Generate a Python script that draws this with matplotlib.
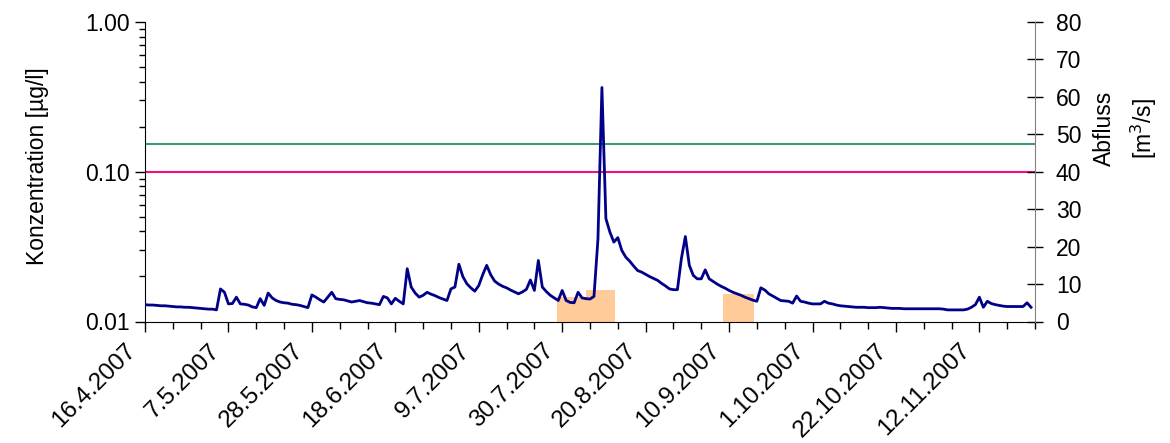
import numpy as np
import pandas as pd
import matplotlib
matplotlib.use("Agg")
import matplotlib.pyplot as plt
import matplotlib.transforms as mtransforms
from matplotlib.ticker import FixedLocator, NullFormatter

plt.rcParams['font.family'] = ['Liberation Sans', 'DejaVu Sans']

# Abfluss [m3/s], daily values from 16.4.2007
start_date = "2007-04-16"
abfluss = [
    4.5, 4.4, 4.4, 4.3, 4.2, 4.2, 4.1, 4.0, 3.9, 3.9,
    3.8, 3.8, 3.7, 3.6, 3.5, 3.4, 3.3, 3.3, 3.1, 8.7,
    7.8, 4.7, 4.8, 6.5, 4.7, 4.6, 4.4, 3.9, 3.7, 6.1,
    4.3, 7.6, 6.3, 5.6, 5.2, 5.0, 4.9, 4.6, 4.5, 4.3,
    4.0, 3.7, 7.1, 6.5, 5.8, 5.2, 6.5, 7.8, 6.1, 5.9,
    5.8, 5.5, 5.2, 5.4, 5.6, 5.3, 5.0, 4.9, 4.7, 4.5,
    6.7, 6.3, 4.7, 6.2, 5.4, 4.7, 14.1, 9.2, 7.6, 6.5,
    7.0, 7.8, 7.3, 6.9, 6.4, 6.0, 5.6, 8.7, 9.2, 15.3,
    12.0, 10.1, 9.0, 8.1, 9.6, 12.5, 15.0, 12.5, 10.8, 10.0,
    9.4, 9.0, 8.4, 7.9, 7.4, 7.9, 8.6, 11.1, 8.3, 16.3,
    9.2, 8.0, 7.0, 6.3, 5.6, 8.3, 5.6, 5.1, 5.0, 7.8,
    6.3, 6.1, 6.0, 6.7, 22.0, 62.5, 27.5, 23.9, 21.2, 22.4,
    19.0, 17.2, 16.1, 14.8, 13.6, 13.2, 12.6, 12.0, 11.5, 11.0,
    10.2, 9.5, 8.7, 8.5, 8.5, 16.8, 22.7, 15.0, 12.3, 11.4,
    11.4, 13.8, 11.4, 10.7, 10.0, 9.4, 8.9, 8.3, 7.8, 7.4,
    7.0, 6.5, 6.1, 5.7, 5.4, 9.0, 8.4, 7.4, 6.8, 6.2,
    5.6, 5.5, 5.4, 4.9, 6.8, 5.4, 5.2, 4.9, 4.7, 4.7,
    4.7, 5.4, 4.9, 4.7, 4.4, 4.2, 4.1, 4.0, 3.9, 3.8,
    3.8, 3.8, 3.7, 3.7, 3.7, 3.8, 3.7, 3.6, 3.5, 3.5,
    3.5, 3.4, 3.4, 3.4, 3.4, 3.4, 3.4, 3.4, 3.4, 3.4,
    3.4, 3.3, 3.1, 3.1, 3.1, 3.1, 3.1, 3.3, 3.8, 4.5,
    6.5, 3.8, 5.4, 4.8, 4.5, 4.3, 4.1, 4.0, 4.0, 4.0,
    4.0, 4.0, 5.0, 3.8,
]

# Konzentration [ug/l] of the sampling periods
probe_start = ["2007-07-28 16:00", "2007-08-05 00:00", "2007-09-08 14:00"]
probe_days = [7.3, 7.2, 7.6]
konzentration = [0.0145, 0.0163, 0.0153]

# limit lines [ug/l]
grenze_gruen = 0.153
grenze_rosa = 0.1

tick_labels = ["16.4.2007", "7.5.2007", "28.5.2007", "18.6.2007", "9.7.2007",
               "30.7.2007", "20.8.2007", "10.9.2007", "1.10.2007",
               "22.10.2007", "12.11.2007"]

dates = pd.date_range(start_date, periods=len(abfluss), freq="D")
x_start = pd.Timestamp(start_date)
x_end = pd.Timestamp("2007-11-26")

fig = plt.figure(figsize=(11.7, 4.43), dpi=100)
ax1 = fig.add_axes([145 / 1170, 1 - 321.5 / 443, 890 / 1170, 299.5 / 443])
ax2 = ax1.twinx()

# bars on log axis, from the bottom of the axis
ax1.bar(pd.to_datetime(probe_start), np.array(konzentration) - 0.01,
        width=probe_days, bottom=0.01, align="edge", color="#ffcc99",
        edgecolor="none", zorder=1)
ax1.axhline(grenze_gruen, color="#3a9e6a", lw=1.5, zorder=2)
ax1.axhline(grenze_rosa, color="#f0107f", lw=1.5, zorder=2)

ax1.set_yscale("log")
ax1.set_ylim(0.01, 1.0)
ax1.set_yticks([0.01, 0.1, 1.0])
ax1.set_yticklabels(["0.01", "0.10", "1.00"])
ax1.yaxis.set_minor_locator(FixedLocator(
    [k * 0.01 for k in range(2, 10)] + [k * 0.1 for k in range(2, 10)]))
ax1.yaxis.set_minor_formatter(NullFormatter())

ax2.plot(dates, abfluss, color="#000088", lw=2.0, zorder=3)
ax2.set_ylim(0, 80)
ax2.set_yticks(range(0, 81, 10))

ax1.set_xlim(x_start, x_end)
major = pd.date_range(x_start, periods=len(tick_labels), freq="21D")
minor = pd.date_range(x_start, x_end, freq="7D")
ax1.set_xticks(major)
ax1.set_xticklabels([])
ax1.set_xticks(minor, minor=True)

# date labels drawn by hand, slightly left/below the tick like the original
shift = mtransforms.ScaledTranslation(-20 / 100, -18 / 100, fig.dpi_scale_trans)
for d, lab in zip(major, tick_labels):
    ax1.text(d, 0, lab, transform=ax1.get_xaxis_transform() + shift,
             rotation=45, ha="right", va="top", rotation_mode="anchor",
             fontsize=17.5, clip_on=False)

for ax in (ax1, ax2):
    ax.spines["top"].set_visible(False)
ax1.spines["right"].set_visible(False)
ax2.spines["left"].set_visible(False)
ax2.spines["bottom"].set_visible(False)
ax2.spines["right"].set_color("#808080")

ax1.tick_params(axis="y", which="major", length=7, width=1, labelsize=16.5, pad=4)
ax1.tick_params(axis="y", which="minor", length=4, width=1)
ax1.tick_params(axis="x", which="major", length=7, width=1)
ax1.tick_params(axis="x", which="minor", length=5, width=1)
ax2.tick_params(axis="y", direction="inout", length=12, width=1, labelsize=16.5,
                pad=9)

fig.text(38 / 1170, 1 - 166 / 443, "Konzentration [µg/l]", rotation=90,
         ha="center", va="center", fontsize=16.5)
fig.text(1126 / 1170, 1 - 128 / 443, "Abfluss\n[m$^3$/s]", rotation=90,
         ha="center", va="center", fontsize=16.5, multialignment="center",
         linespacing=1.55)

fig.savefig("out.png", dpi=100)
